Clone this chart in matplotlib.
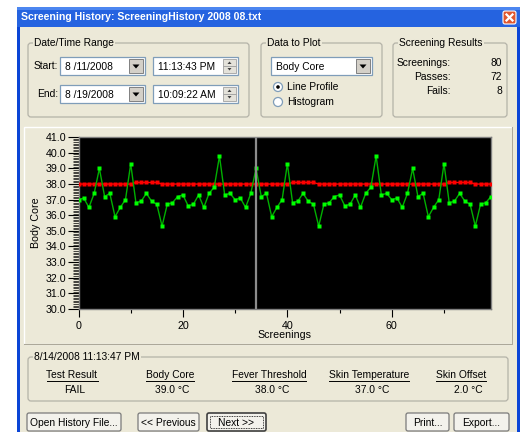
#!/usr/bin/env python3
"""
Screening history dialog: body core temperature line profile vs fever threshold.
"""

import matplotlib
matplotlib.use('Agg')
import matplotlib.pyplot as plt
from matplotlib.patches import Rectangle, FancyBboxPatch, Circle, Polygon
from matplotlib.ticker import MultipleLocator, FormatStrFormatter

plt.rcParams['font.family'] = ['Liberation Sans', 'DejaVu Sans']

# ---- data ----
screening_idx = list(range(80))
body_core = [37.0, 37.1, 36.5, 37.4, 39.0, 37.2, 37.4, 35.9, 36.5, 37.0,
             39.3, 36.8, 36.9, 37.4, 36.9, 36.7, 35.3, 36.7, 36.8, 37.2,
             37.3, 36.6, 36.7, 37.3, 36.5, 37.4, 37.8, 39.8, 37.3, 37.4,
             37.0, 37.1, 36.5, 37.4, 39.0, 37.2, 37.4, 35.9, 36.5, 37.0,
             39.3, 36.8, 36.9, 37.4, 36.9, 36.7, 35.3, 36.7, 36.8, 37.2,
             37.3, 36.6, 36.7, 37.3, 36.5, 37.4, 37.8, 39.8, 37.3, 37.4,
             37.0, 37.1, 36.5, 37.4, 39.0, 37.2, 37.4, 35.9, 36.5, 37.0,
             39.3, 36.8, 36.9, 37.4, 36.9, 36.7, 35.3, 36.7, 36.8, 37.2]
fever_threshold = [38.0, 38.0, 38.0, 38.0, 38.0, 38.0, 38.0, 38.0, 38.0, 38.0,
                   38.0, 38.1, 38.1, 38.1, 38.1, 38.1, 38.0, 38.0, 38.0, 38.0,
                   38.0, 38.0, 38.0, 38.0, 38.0, 38.0, 38.0, 38.0, 38.0, 38.0,
                   38.0, 38.0, 38.0, 38.0, 38.0, 38.0, 38.0, 38.0, 38.0, 38.0,
                   38.0, 38.1, 38.1, 38.1, 38.1, 38.1, 38.0, 38.0, 38.0, 38.0,
                   38.0, 38.0, 38.0, 38.0, 38.0, 38.0, 38.0, 38.0, 38.0, 38.0,
                   38.0, 38.0, 38.0, 38.0, 38.0, 38.0, 38.0, 38.0, 38.0, 38.0,
                   38.0, 38.1, 38.1, 38.1, 38.1, 38.1, 38.0, 38.0, 38.0, 38.0]
cursor_idx = 34

result_headers = ['Test Result', 'Body Core', 'Fever Threshold', 'Skin Temperature', 'Skin Offset']
result_values = ['FAIL', '39.0 \u00b0C', '38.0 \u00b0C', '37.0 \u00b0C', '2.0 \u00b0C']
summary_labels = ['Screenings:', 'Passes:', 'Fails:']
summary_values = ['80', '72', '8']

W, H = 525, 432
BEIGE = '#ECE9D8'
FS = 7.4

fig = plt.figure(figsize=(W / 100, H / 100), dpi=100)
fig.patch.set_facecolor('white')

# background axes in pixel coordinates (y down)
bg = fig.add_axes([0, 0, 1, 1])
bg.set_xlim(0, W)
bg.set_ylim(H, 0)
bg.axis('off')

# window frame, body and title bar
bg.add_patch(Rectangle((17, 7), 503, 430, fc='#0B45D6', ec='none'))
bg.add_patch(Rectangle((20, 26), 497, 410, fc=BEIGE, ec='none'))
bg.add_patch(Rectangle((17, 7), 503, 20, fc='#2563E0', ec='none'))
bg.add_patch(Rectangle((17, 7), 503, 3, fc='#4C86F0', ec='none'))
bg.text(21, 17.5, 'Screening History: ScreeningHistory 2008 08.txt', color='white',
        fontsize=7.6, fontweight='bold', ha='left', va='center')
bg.add_patch(FancyBboxPatch((503, 11), 13, 13, boxstyle='round,pad=0,rounding_size=2',
                            fc='#E0572F', ec='white', lw=0.8))
bg.plot([506.5, 512.5], [14.5, 20.5], color='white', lw=1.6)
bg.plot([506.5, 512.5], [20.5, 14.5], color='white', lw=1.6)


def group(x, y, w, h, label):
    bg.add_patch(FancyBboxPatch((x, y), w, h, boxstyle='round,pad=0,rounding_size=3',
                                fc='none', ec='#B4B3A8', lw=0.9))
    bg.text(x + 6, y, label, fontsize=FS, ha='left', va='center',
            bbox=dict(fc=BEIGE, ec='none', pad=1))


def field(x, y, w, h, text, kind='drop'):
    bg.add_patch(Rectangle((x, y), w, h, fc='white', ec='#7F9DB9', lw=0.9))
    bg.text(x + 5, y + h / 2 + 0.5, text, fontsize=FS, ha='left', va='center')
    if kind == 'drop':
        bx = x + w - 16
        bg.add_patch(Rectangle((bx, y + 2), 14, h - 4, fc='#D4D0C8', ec='#808080', lw=0.7))
        cx, cy = bx + 7, y + h / 2
        bg.add_patch(Polygon([[cx - 3.5, cy - 1.5], [cx + 3.5, cy - 1.5], [cx, cy + 2.5]],
                             closed=True, fc='black', ec='none'))
    else:
        bx = x + w - 15
        bg.add_patch(Rectangle((bx, y + 2), 13, (h - 4) / 2, fc='#E4E2DA', ec='#A0A0A0', lw=0.6))
        bg.add_patch(Rectangle((bx, y + h / 2), 13, (h - 4) / 2, fc='#E4E2DA', ec='#A0A0A0', lw=0.6))
        cx = bx + 6.5
        bg.add_patch(Polygon([[cx - 2, y + 7], [cx + 2, y + 7], [cx, y + 4.5]], fc='#404040', ec='none'))
        bg.add_patch(Polygon([[cx - 2, y + h - 7], [cx + 2, y + h - 7], [cx, y + h - 4.5]],
                             fc='#404040', ec='none'))


def button(x, y, w, h, label, focus=False):
    bg.add_patch(FancyBboxPatch((x, y), w, h, boxstyle='round,pad=0,rounding_size=2',
                                fc='#F3F2EC', ec='#404040' if focus else '#7A7A7A',
                                lw=1.2 if focus else 0.9))
    if focus:
        bg.add_patch(Rectangle((x + 3, y + 3), w - 6, h - 6, fc='none', ec='black',
                               lw=0.6, ls=(0, (1, 1))))
    bg.text(x + w / 2, y + h / 2 + 0.5, label, fontsize=FS, ha='center', va='center')


# Date/Time Range
group(28, 43, 221, 74, 'Date/Time Range')
bg.text(58, 66, 'Start:', fontsize=FS, ha='right', va='center')
bg.text(58, 94, 'End:', fontsize=FS, ha='right', va='center')
field(60, 57, 85, 18, '8 /11/2008', 'drop')
field(153, 57, 85, 18, '11:13:43 PM', 'spin')
field(60, 85, 85, 18, '8 /19/2008', 'drop')
field(153, 85, 85, 18, '10:09:22 AM', 'spin')

# Data to Plot
group(261, 43, 121, 74, 'Data to Plot')
field(271, 57, 101, 18, 'Body Core', 'drop')
for ry, lbl, sel in [(87, 'Line Profile', True), (102, 'Histogram', False)]:
    bg.add_patch(Circle((278, ry), 4.5, fc='white', ec='#7F9DB9', lw=0.9))
    if sel:
        bg.add_patch(Circle((278, ry), 1.8, fc='black', ec='none'))
    bg.text(287, ry, lbl, fontsize=FS, ha='left', va='center')

# Screening Results
group(393, 43, 114, 74, 'Screening Results')
for i, (lbl, val) in enumerate(zip(summary_labels, summary_values)):
    yy = 63 + 14 * i
    bg.text(451, yy, lbl, fontsize=FS, ha='right', va='center')
    bg.text(502, yy, val, fontsize=FS, ha='right', va='center')

# chart panel
bg.add_patch(Rectangle((24, 127), 488, 217, fc=BEIGE, ec='#FFFFFF', lw=1))
bg.plot([24, 512, 512], [344, 344, 127], color='#ACA899', lw=0.8)

# ---- chart ----
x0, x1, y0, y1 = 78.5, 491, 137.3, 308.7
ax = fig.add_axes([x0 / W, 1 - y1 / H, (x1 - x0) / W, (y1 - y0) / H])
ax.set_facecolor('black')
ax.plot(screening_idx, fever_threshold, color='#FF0000', lw=1,
        marker='s', ms=2.6, mfc='#FF0000', mec='none', zorder=3)
ax.plot(screening_idx, body_core, color='#00B000', lw=1,
        marker='s', ms=3, mfc='#00FF00', mec='none', zorder=4)
ax.axvline(screening_idx[cursor_idx], color='#8C8C8C', lw=1.6, zorder=5)
ax.set_xlim(0, 79)
ax.set_ylim(30, 41)
for s in ax.spines.values():
    s.set_color('#808080')
    s.set_linewidth(1)
ax.yaxis.set_major_locator(MultipleLocator(1))
ax.yaxis.set_minor_locator(MultipleLocator(0.1))
ax.yaxis.set_major_formatter(FormatStrFormatter('%.1f'))
ax.xaxis.set_major_locator(MultipleLocator(20))
ax.xaxis.set_minor_locator(MultipleLocator(10))
ax.tick_params(axis='y', which='major', direction='out', length=8, width=0.8,
               labelsize=FS + 0.3, pad=1, color='black')
ax.tick_params(axis='y', which='minor', direction='out', length=4, width=0.5, color='black')
ax.tick_params(axis='x', which='major', direction='out', length=6, width=0.8,
               labelsize=FS + 0.3, pad=3, color='black')
ax.tick_params(axis='x', which='minor', direction='out', length=3, width=0.8, color='black')
ax.set_ylabel('Body Core', fontsize=FS + 0.3)
ax.yaxis.set_label_coords(-0.09, 0.5)
ax.set_xlabel('Screenings', fontsize=FS + 0.3)
ax.xaxis.set_label_coords(0.5, -0.125)

# ---- selected screening details ----
group(28, 357, 480, 44, '8/14/2008 11:13:47 PM')
head_x = [72, 170, 269, 369, 461]
val_x = [75, 172, 272, 372, 468]
head_texts = []
for hx, hd, vx, vl in zip(head_x, result_headers, val_x, result_values):
    head_texts.append(bg.text(hx, 375, hd, fontsize=FS, ha='center', va='center'))
    bg.text(vx, 390, vl, fontsize=FS, ha='center', va='center')

fig.canvas.draw()
inv = bg.transData.inverted()
for t in head_texts:
    bb = t.get_window_extent()
    (lx, _), (rx, _) = inv.transform([[bb.x0, bb.y0], [bb.x1, bb.y0]])
    bg.plot([lx, rx], [381, 381], color='black', lw=0.7)

# buttons
button(27, 413, 94, 18, 'Open History File...')
button(138, 413, 61, 18, '<< Previous')
button(207, 413, 59, 18, 'Next >>', focus=True)
button(406, 413, 43, 18, 'Print...')
button(454, 413, 55, 18, 'Export...')

fig.savefig('out.png', dpi=100, facecolor=fig.get_facecolor())
